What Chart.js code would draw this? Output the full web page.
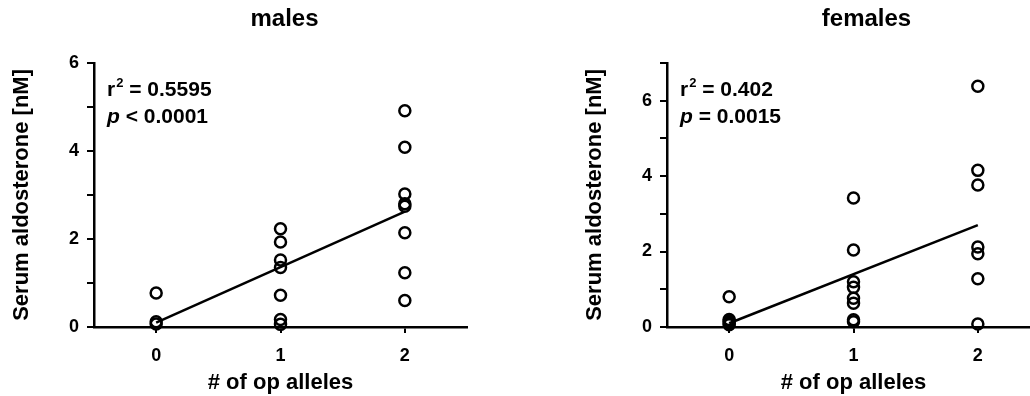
<!DOCTYPE html>
<html>
<head>
<meta charset="utf-8">
<title>Serum aldosterone vs op alleles</title>
<script src="https://cdn.jsdelivr.net/npm/chart.js@4.4.1/dist/chart.umd.min.js"></script>
<style>
  html, body { margin: 0; padding: 0; background: #fff; }
  body { width: 1030px; height: 396px; overflow: hidden; position: relative; }
  .panel { position: absolute; top: 0; }
  #malesBox { left: 0px; }
  #femalesBox { left: 573px; }
</style>
</head>
<body>
<div class="panel" id="malesBox"><canvas id="malesChart" width="515" height="396"></canvas></div>
<div class="panel" id="femalesBox"><canvas id="femalesChart" width="515" height="396"></canvas></div>
<script>
// number of op alleles (x categories)
const alleleCounts = [0, 1, 2];
const fitX = [0, 2];

// males, serum aldosterone [nM] per genotype group
const males0 = [0.77, 0.12, 0.07];
const males1 = [2.23, 1.93, 1.52, 1.35, 0.72, 0.17, 0.06];
const males2 = [4.91, 4.08, 3.02, 2.80, 2.74, 2.14, 1.23, 0.60];
const malesFit = [0.10, 2.62];
const malesYLabels = [0, 2, 4, 6];
const malesR2 = '0.5595';
const malesP = '< 0.0001';

// females
const females0 = [0.80, 0.20, 0.15, 0.10, 0.06];
const females1 = [3.42, 2.04, 1.20, 1.05, 0.76, 0.63, 0.19, 0.14];
const females2 = [6.38, 4.15, 3.76, 2.12, 1.94, 1.28, 0.08];
const femalesFit = [0.10, 2.70];
const femalesYLabels = [0, 2, 4, 6];
const femalesR2 = '0.402';
const femalesP = '= 0.0015';

const FONT = '"Liberation Sans", Arial, Helvetica, sans-serif';
Chart.defaults.font.family = FONT;
Chart.defaults.color = '#000';

function toPoints(groups) {
	var pts = [];
	groups.forEach(function (vals, i) {
		vals.forEach(function (v) { pts.push({ x: alleleCounts[i], y: v }); });
	});
	return pts;
}

// r^2 / p text in the upper left corner of the plot
const statsText = {
	id: 'statsText',
	afterDraw(chart, args, opts) {
		const ctx = chart.ctx, a = chart.chartArea;
		ctx.save();
		ctx.fillStyle = '#000';
		ctx.textAlign = 'left';
		ctx.textBaseline = 'alphabetic';
		var x = a.left + 13, y = a.top + 33;
		ctx.font = 'bold 21px ' + FONT;
		ctx.fillText('r', x, y);
		x += ctx.measureText('r').width + 1;
		ctx.font = 'bold 13px ' + FONT;
		ctx.fillText('2', x, y - 9);
		x += ctx.measureText('2').width;
		ctx.font = 'bold 21px ' + FONT;
		ctx.fillText(' = ' + opts.r2, x, y);

		x = a.left + 13; y = a.top + 60;
		ctx.font = 'italic bold 21px ' + FONT;
		ctx.fillText('p', x, y);
		x += ctx.measureText('p').width;
		ctx.font = 'bold 21px ' + FONT;
		ctx.fillText(' ' + opts.p, x, y);
		ctx.restore();
	}
};

// nudge the title sideways
const titleShift = {
	id: 'titleShift',
	afterLayout(chart, args, opts) {
		const t = chart.titleBlock;
		if (t && opts.dx) { t.left += opts.dx; t.right += opts.dx; }
	}
};

function makeChart(id, title, groups, fit, yMax, yLabels, r2, p, dx) {
	const ctx = document.getElementById(id);
	return new Chart(ctx, {
		type: 'scatter',
		data: {
			datasets: [{
				type: 'line',
				data: fitX.map(function (x, i) { return { x: x, y: fit[i] }; }),
				borderColor: '#000',
				borderWidth: 2.5,
				pointRadius: 0,
				fill: false,
				clip: false
			}, {
				data: toPoints(groups),
				pointStyle: 'circle',
				pointRadius: 5.5,
				borderWidth: 2.5,
				borderColor: '#000',
				backgroundColor: 'rgba(0,0,0,0)',
				clip: false
			}]
		},
		options: {
			responsive: false,
			animation: false,
			events: [],
			layout: { padding: { left: 0, right: 48, top: 0, bottom: 0 } },
			plugins: {
				legend: { display: false },
				tooltip: { enabled: false },
				title: {
					display: true,
					text: title,
					fullSize: false,
					font: { size: 24, weight: 'bold' },
					padding: { top: 5, bottom: 29 }
				},
				statsText: { r2: r2, p: p },
				titleShift: { dx: dx }
			},
			scales: {
				x: {
					type: 'linear',
					min: -0.5,
					max: 2.5,
					afterBuildTicks: function (scale) {
						scale.ticks = alleleCounts.map(function (v) { return { value: v }; });
					},
					afterFit: function (scale) { scale.height = 69; },
					border: { display: true, color: '#000', width: 2.5 },
					grid: { drawOnChartArea: false, drawTicks: true, tickLength: 6, color: '#000', lineWidth: 2 },
					ticks: { padding: 12, font: { size: 18, weight: 'bold' }, maxRotation: 0 },
					title: {
						display: true,
						text: '# of op alleles',
						font: { size: 22, weight: 'bold' },
						padding: { top: 0, bottom: 0 }
					}
				},
				y: {
					min: 0,
					max: yMax,
					afterFit: function (scale) { scale.width = 94; },
					border: { display: true, color: '#000', width: 2.5 },
					grid: { drawOnChartArea: false, drawTicks: true, tickLength: 7, color: '#000', lineWidth: 2 },
					ticks: {
						stepSize: 1,
						padding: 8,
						font: { size: 18, weight: 'bold' },
						callback: function (v) { return yLabels.indexOf(v) >= 0 ? String(v) : ''; }
					},
					title: {
						display: true,
						text: 'Serum aldosterone [nM]',
						font: { size: 22, weight: 'bold' },
						padding: { top: 9, bottom: 0 }
					}
				}
			}
		},
		plugins: [statsText, titleShift]
	});
}

makeChart('malesChart', 'males', [males0, males1, males2], malesFit, 6, malesYLabels, malesR2, malesP, 4);
makeChart('femalesChart', 'females', [females0, females1, females2], femalesFit, 7, femalesYLabels, femalesR2, femalesP, 13);
</script>
</body>
</html>
